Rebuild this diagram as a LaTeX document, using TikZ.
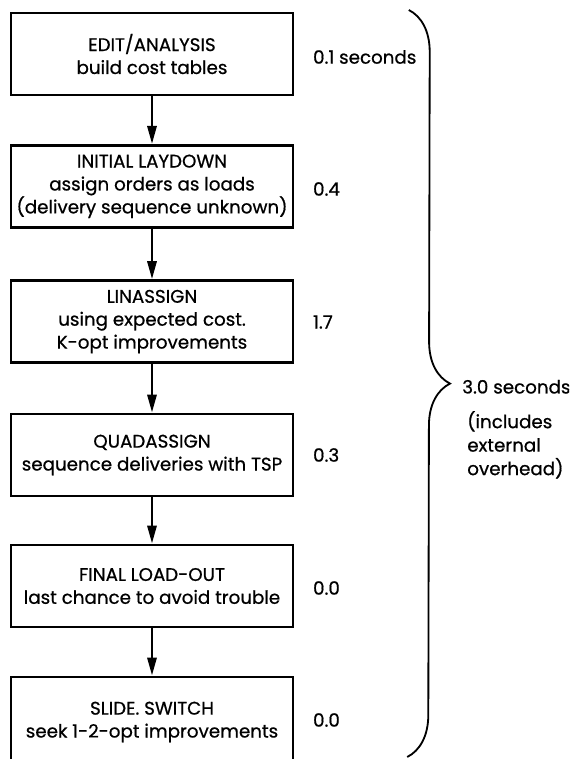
\documentclass[tikz,border=0pt]{standalone}
\usepackage{fontspec}
\setmainfont{Poppins}[FakeBold=0.7]
\usetikzlibrary{arrows.meta,positioning,decorations.pathreplacing}

\begin{document}
\begin{tikzpicture}[
  stagebox/.style={rectangle, draw, line width=2pt, align=center, font=\fontsize{13}{16.3}\selectfont, minimum width=7.05cm, minimum height=2.05cm, inner sep=0pt},
  flow/.style={-{Triangle[length=4.5mm, width=2.3mm]}, line width=1.8pt},
  timing/.style={anchor=west, font=\fontsize{13}{16}\selectfont, inner sep=0pt},
  note/.style={anchor=north west, align=left, font=\fontsize{13}{16.7}\selectfont, inner sep=0pt},
  bracket/.style={decorate, decoration={brace, amplitude=1.05cm}, line width=1.3pt}
]
  \useasboundingbox (0,0) rectangle (14.225,-18.975);
  \clip (0,0) rectangle (14.225,-18.975);
  \def\bx{3.8} \def\tx{7.82}

  % stages
  \node[stagebox] (EA) at (\bx,-1.35) {EDIT/ANALYSIS\\build cost tables};
  \node[stagebox] (IL) at (\bx,-4.66) {INITIAL LAYDOWN\\assign orders as loads\\(delivery sequence unknown)};
  \node[stagebox] (LA) at (\bx,-8.04) {LINASSIGN\\using expected cost.\\K-opt improvements};
  \node[stagebox] (QA) at (\bx,-11.375) {QUADASSIGN\\sequence deliveries with TSP};
  \node[stagebox] (FL) at (\bx,-14.65) {FINAL LOAD-OUT\\last chance to avoid trouble};
  \node[stagebox, minimum height=2.25cm] (SS) at (\bx,-18.05) {SLIDE. SWITCH\\seek 1-2-opt improvements};

  \draw[flow] (EA) -- (IL);
  \draw[flow] (IL) -- (LA);
  \draw[flow] (LA) -- (QA);
  \draw[flow] (QA) -- (FL);
  \draw[flow] (FL) -- (SS);

  % times
  \node[timing] (tEA) at (\tx,-1.425) {0.1 seconds};
  \node[timing] (tIL) at (\tx,-4.725) {0.4};
  \node[timing] (tLA) at (\tx,-8.05) {1.7};
  \node[timing] (tQA) at (\tx,-11.375) {0.3};
  \node[timing] (tFL) at (\tx,-14.7) {0.0};
  \node[timing] (tSS) at (\tx,-18.0) {0.0};

  % total
  \coordinate (bt) at (10.22,-0.25);
  \coordinate (bb) at (10.18,-18.925);
  \draw[bracket] (bt) -- (bb);
  \node[timing] (tot) at (11.55,-9.67) {3.0 seconds};
  \node[note] (ovh) at (11.675,-10.27) {(includes\\external\\overhead)};
\end{tikzpicture}
\end{document}
